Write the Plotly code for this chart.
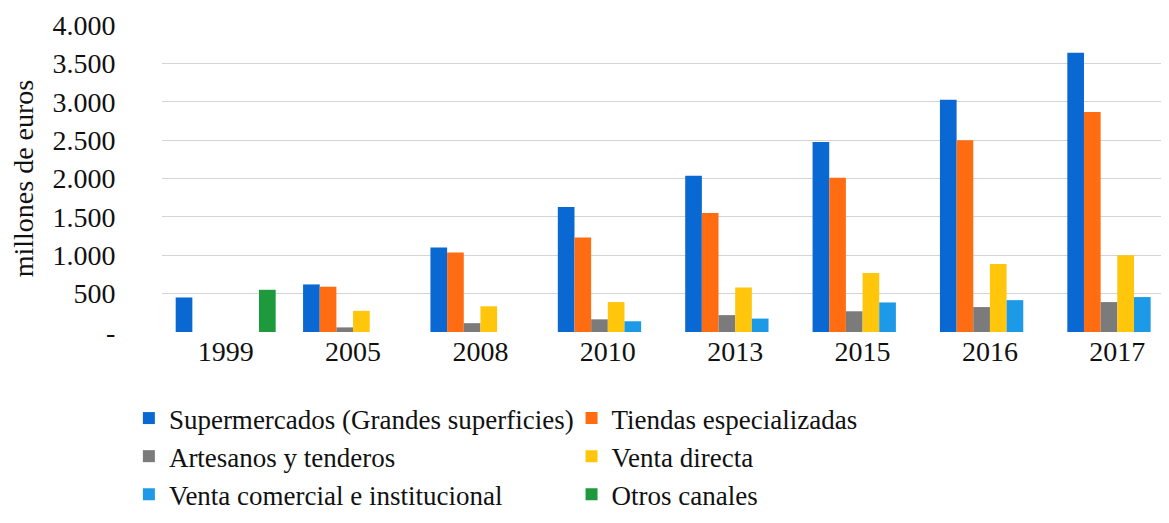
import plotly.graph_objects as go

# --- data (millones de euros) -----------------------------------------------
years = ["1999", "2005", "2008", "2010", "2013", "2015", "2016", "2017"]

supermercados = [450, 620, 1100, 1630, 2035, 2475, 3025, 3640]
tiendas = [None, 590, 1035, 1230, 1550, 2010, 2500, 2865]
artesanos = [None, 60, 115, 165, 220, 270, 325, 390]
venta_directa = [None, 275, 335, 390, 580, 770, 885, 1000]
venta_comercial = [None, None, None, 140, 175, 385, 415, 455]
otros = [550, None, None, None, None, None, None, None]

y_ticks = [0, 500, 1000, 1500, 2000, 2500, 3000, 3500, 4000]
y_ticktext = ["-", "500", "1.000", "1.500", "2.000", "2.500", "3.000", "3.500", "4.000"]

# name, values, colour, legend column
series = [
    ("Supermercados (Grandes superficies)", supermercados, "#0a68d2", "legend"),
    ("Tiendas especializadas", tiendas, "#ff6c12", "legend2"),
    ("Artesanos y tenderos", artesanos, "#7b7b7b", "legend"),
    ("Venta directa", venta_directa, "#ffc60c", "legend2"),
    ("Venta comercial e institucional", venta_comercial, "#1c9ae8", "legend"),
    ("Otros canales", otros, "#1e9a3c", "legend2"),
]

FONT = "Liberation Serif, Times New Roman, serif"

fig = go.Figure()
for name, vals, color, leg in series:
    fig.add_trace(go.Bar(
        x=years, y=vals, name=name, legend=leg,
        marker=dict(color=color, line=dict(width=0)),
    ))

legend_style = dict(
    orientation="v", xanchor="left", yanchor="top", y=-0.202,
    font=dict(family=FONT, size=27, color="#111"),
    bgcolor="rgba(0,0,0,0)", itemwidth=30, tracegroupgap=0,
)

# the page body adds an 8px offset; the original chart is cropped on the
# right, so the plot area runs slightly past the visible edge
fig.update_layout(
    width=1177, height=523,
    margin=dict(l=154, r=4, t=17, b=199),
    paper_bgcolor="white", plot_bgcolor="white",
    font=dict(family=FONT, size=27, color="#111"),
    barmode="group", bargap=0.215, bargroupgap=0,
    legend=dict(x=-0.0325, **legend_style),
    legend2=dict(x=0.4019, **legend_style),
    xaxis=dict(
        type="category", showgrid=False, showline=False, zeroline=False,
        ticks="", tickfont=dict(family=FONT, size=28), tickangle=0,
        automargin=False,
    ),
    yaxis=dict(
        range=[0, 4000], tickvals=y_ticks, ticktext=y_ticktext,
        showgrid=True, gridcolor="#d4d4d4", gridwidth=1,
        zeroline=False, showline=False, automargin=False,
        ticks="outside", ticklen=40, tickcolor="rgba(0,0,0,0)",
        tickfont=dict(family=FONT, size=28),
        title=dict(text="millones de euros", standoff=16,
                   font=dict(family=FONT, size=28)),
    ),
)

fig.write_html("out.html")
